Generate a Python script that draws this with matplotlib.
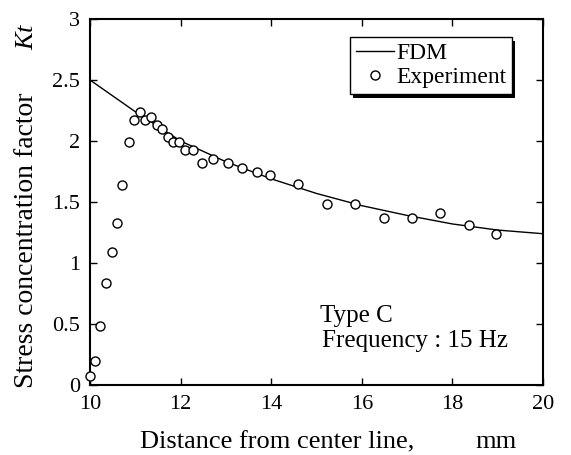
import numpy as np
import matplotlib
matplotlib.use('Agg')
import matplotlib.pyplot as plt
from matplotlib.patches import Rectangle

# FDM curve
fdm_x = [10, 11, 12, 13, 14, 15, 16, 17, 18, 19, 20]
fdm_y = [2.50, 2.24, 2.00, 1.83, 1.69, 1.57, 1.47, 1.39, 1.32, 1.27, 1.24]

# Experimental points
exp_x = [10.00, 10.11, 10.22, 10.35, 10.48, 10.60, 10.71, 10.85, 10.97, 11.10,
         11.21, 11.35, 11.47, 11.59, 11.72, 11.84, 11.97, 12.10, 12.28, 12.48,
         12.72, 13.04, 13.36, 13.68, 13.98, 14.60, 15.24, 15.86, 16.50, 17.10,
         17.73, 18.37, 18.97]
exp_y = [0.07, 0.20, 0.48, 0.84, 1.09, 1.33, 1.64, 1.99, 2.17, 2.24,
         2.17, 2.20, 2.13, 2.10, 2.03, 1.99, 1.99, 1.93, 1.93, 1.82,
         1.85, 1.82, 1.78, 1.75, 1.72, 1.65, 1.48, 1.48, 1.37, 1.37,
         1.41, 1.31, 1.24]

x_ticks = [10, 12, 14, 16, 18, 20]
y_ticks = [0, 0.5, 1, 1.5, 2, 2.5, 3]
y_tick_labels = ['0', '0.5', '1', '1.5', '2', '2.5', '3']

W, H = 571, 455
plt.rcParams['font.family'] = 'Liberation Serif'
plt.rcParams['mathtext.fontset'] = 'custom'
plt.rcParams['mathtext.it'] = 'Liberation Serif:italic'
plt.rcParams['mathtext.rm'] = 'Liberation Serif'

fig = plt.figure(figsize=(W / 100, H / 100), dpi=100)
ax = fig.add_axes([90 / W, 1 - 385 / H, 453 / W, 366 / H])

ax.plot(fdm_x, fdm_y, color='black', lw=1.0, label='FDM')
ax.plot(exp_x, exp_y, 'o', mfc='white', mec='black', ms=6.5, mew=1.0,
        label='Experiment', clip_on=False, zorder=3)

ax.set_xlim(10, 20)
ax.set_ylim(0, 3)
ax.set_xticks(x_ticks)
ax.set_yticks(y_ticks)
ax.set_yticklabels(y_tick_labels)
ax.tick_params(direction='in', top=True, right=True, length=5, width=1,
               labelsize=16, pad=7)
for s in ax.spines.values():
    s.set_linewidth(1.5)

# axis titles placed by hand (wide letter spacing in the original)
fig.text(140 / W, 1 - 448 / H, 'Distance from center line,', fontsize=19,
         ha='left', va='baseline')
fig.text(475 / W, 1 - 448 / H, 'mm', fontsize=19, ha='left', va='baseline')
fig.text(27 / W, 1 - 388 / H, 'Stress concentration factor', fontsize=20,
         rotation=90, ha='center', va='bottom')
fig.text(27 / W, 1 - 22 / H, '$Kt$', fontsize=19, rotation=90,
         ha='center', va='top')

leg = ax.legend(loc='upper right', bbox_to_anchor=(512 / W, 1 - 37 / H),
                bbox_transform=fig.transFigure, fontsize=17,
                frameon=True, fancybox=False, shadow=False, edgecolor='black',
                facecolor='white', framealpha=1.0,
                handlelength=1.6, handletextpad=0.1, borderpad=0.25,
                labelspacing=0.1, borderaxespad=0, numpoints=1)
leg.get_frame().set_linewidth(1.0)
leg.set_zorder(5)

# drop shadow for the legend box
fig.canvas.draw()
bb = leg.get_window_extent().transformed(fig.transFigure.inverted())
dx, dy = 3 / W, 4 / H
ax.add_patch(Rectangle((bb.x0 + dx, bb.y0 - dy), bb.width, bb.height,
                       transform=fig.transFigure, facecolor='black',
                       edgecolor='none', zorder=4, clip_on=False))

fig.text(320 / W, 1 - 322 / H, 'Type C', fontsize=18, va='baseline')
fig.text(322 / W, 1 - 347 / H, 'Frequency : 15 Hz', fontsize=18, va='baseline')

plt.savefig('out.png', dpi=100)
